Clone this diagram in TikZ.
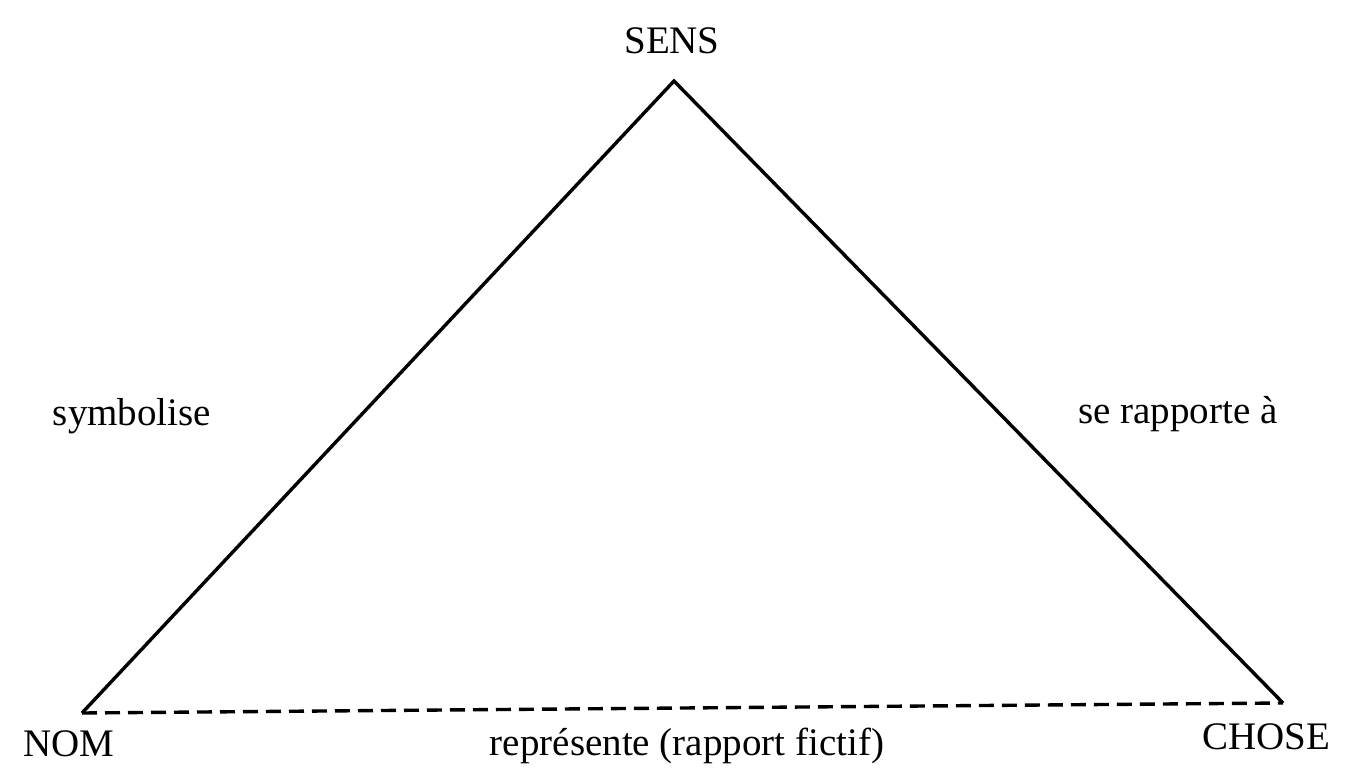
\documentclass[tikz,border=0pt]{standalone}
\usepackage{fontspec}
\setmainfont{Liberation Serif}

\begin{document}
\begin{tikzpicture}[x=1pt, y=-1pt, line width=3.4pt,
    lbl/.style={font=\fontsize{39}{44}\selectfont, inner sep=0pt}]
                    \useasboundingbox (0,0) rectangle (1346,770);

                    % Corners of the triangle
                    \coordinate (sens) at (674,81);
                    \coordinate (nom) at (82,713);
                    \coordinate (chose) at (1283,703);

                    % Sides
                    \draw[line join=miter] (nom) -- (sens) -- (chose);
                    \draw[dash pattern=on 15pt off 8pt] (nom) -- (chose);

                    % Vertex labels
                    \node[lbl] (sensl) at (672,41) {SENS};
                    \node[lbl] (noml) at (69,744) {NOM};
                    \node[lbl] (chosel) at (1266,737) {CHOSE};

                    % Side labels
                    \node[lbl] (symb) at (132,416) {symbolise};
                    \node[lbl] (rapp) at (1178,414) {se rapporte à};
                    \node[lbl] (repr) at (687,746) {représente (rapport fictif)};
                \end{tikzpicture}
\end{document}
